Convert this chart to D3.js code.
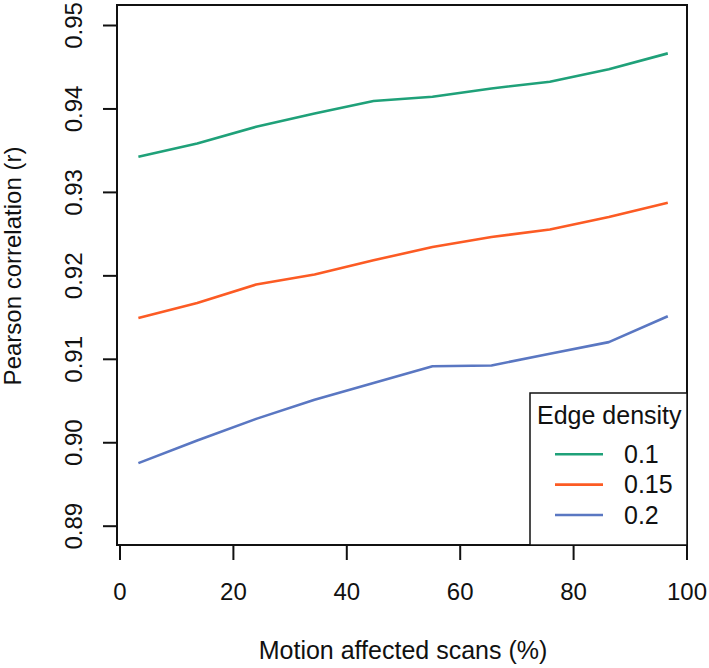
<!DOCTYPE html>
<html>
<head>
<meta charset="utf-8">
<script src="https://cdn.jsdelivr.net/npm/d3@7"></script>
<style>
  html, body { margin: 0; padding: 0; background: #fff; }
  svg { display: block; font-family: "Liberation Sans", Arial, Helvetica, sans-serif; }
</style>
</head>
<body>
<svg id="chart" width="709" height="668"></svg>
<script>
// ---- data ----
const xValues = [3.33, 13.7, 24.1, 34.4, 44.8, 55.2, 65.6, 75.9, 86.3, 96.7];
const series01  = [0.9342, 0.9358, 0.9378, 0.9394, 0.9409, 0.9414, 0.9424, 0.9432, 0.9447, 0.9466];
const series015 = [0.9149, 0.9167, 0.9189, 0.9201, 0.9218, 0.9234, 0.9246, 0.9255, 0.9270, 0.9287];
const series02  = [0.8975, 0.9002, 0.9028, 0.9051, 0.9071, 0.9091, 0.9092, 0.9106, 0.9120, 0.9151];
const seriesNames = ["0.1", "0.15", "0.2"];
const seriesColors = ["#1fa179", "#fc5b24", "#5a77c2"];
const xTicks = [0, 20, 40, 60, 80, 100];
const yTicks = [0.89, 0.90, 0.91, 0.92, 0.93, 0.94, 0.95];
const xTitle = "Motion affected scans (%)";
const yTitle = "Pearson correlation (r)";
const legendTitle = "Edge density";

const allSeries = [series01, series015, series02];

// ---- layout ----
const svg = d3.select("#chart");
const box = { left: 117, right: 687, top: 5, bottom: 545 };
const fontSize = 24;

const x = d3.scaleLinear().domain([0, 100]).range([119.5, 686.5]);
const y = d3.scaleLinear().domain([0.89, 0.95]).range([525.7, 25]);

// lines
const line = d3.line().x((d, i) => x(xValues[i])).y(d => y(d));
allSeries.forEach((s, k) => {
  svg.append("path")
    .datum(s)
    .attr("d", line)
    .attr("fill", "none")
    .attr("stroke", seriesColors[k])
    .attr("stroke-width", 2.6)
    .attr("stroke-linejoin", "round");
});

// box
svg.append("rect")
  .attr("x", box.left).attr("y", box.top)
  .attr("width", box.right - box.left).attr("height", box.bottom - box.top)
  .attr("fill", "none").attr("stroke", "#111").attr("stroke-width", 2);

// x axis
const xAxis = d3.axisBottom(x).tickValues(xTicks).tickSize(15).tickPadding(23)
  .tickFormat(d3.format("d"));
const gx = svg.append("g").attr("transform", `translate(0,${box.bottom})`).call(xAxis);
gx.select(".domain").remove();
gx.selectAll(".tick line").attr("stroke", "#111").attr("stroke-width", 2);
gx.selectAll(".tick text").attr("font-size", fontSize).attr("fill", "#111")
  .attr("font-family", "Liberation Sans, Arial, sans-serif");

// y axis
const yAxis = d3.axisLeft(y).tickValues(yTicks).tickSize(14).tickFormat(d3.format(".2f"));
const gy = svg.append("g").attr("transform", `translate(${box.left},0)`).call(yAxis);
gy.select(".domain").remove();
gy.selectAll(".tick line").attr("stroke", "#111").attr("stroke-width", 2);
gy.selectAll(".tick text")
  .attr("font-size", fontSize).attr("fill", "#111")
  .attr("font-family", "Liberation Sans, Arial, sans-serif")
  .attr("x", null).attr("dy", null)
  .attr("text-anchor", "middle")
  .attr("transform", "translate(-35,0) rotate(-90)");

// axis titles
svg.append("text")
  .attr("x", 403).attr("y", 659)
  .attr("text-anchor", "middle")
  .attr("font-size", fontSize + 1).attr("fill", "#111")
  .text(xTitle);

svg.append("text")
  .attr("transform", "translate(21,266) rotate(-90)")
  .attr("text-anchor", "middle")
  .attr("font-size", fontSize).attr("fill", "#111")
  .text(yTitle);

// legend
const lg = { left: 530, top: 393, right: box.right, bottom: box.bottom };
svg.append("rect")
  .attr("x", lg.left).attr("y", lg.top)
  .attr("width", lg.right - lg.left).attr("height", lg.bottom - lg.top)
  .attr("fill", "#fff").attr("stroke", "#111").attr("stroke-width", 1.5);
svg.append("text")
  .attr("x", 537).attr("y", 424)
  .attr("font-size", fontSize + 1).attr("fill", "#111")
  .text(legendTitle);
const itemY = d3.scalePoint().domain(seriesNames).range([454.3, 515]);
seriesNames.forEach((name, k) => {
  svg.append("line")
    .attr("x1", 555).attr("x2", 603)
    .attr("y1", itemY(name)).attr("y2", itemY(name))
    .attr("stroke", seriesColors[k]).attr("stroke-width", 2.6);
  svg.append("text")
    .attr("x", 624).attr("y", itemY(name) + 8.5)
    .attr("font-size", fontSize + 1).attr("fill", "#111")
    .text(name);
});
</script>
</body>
</html>
